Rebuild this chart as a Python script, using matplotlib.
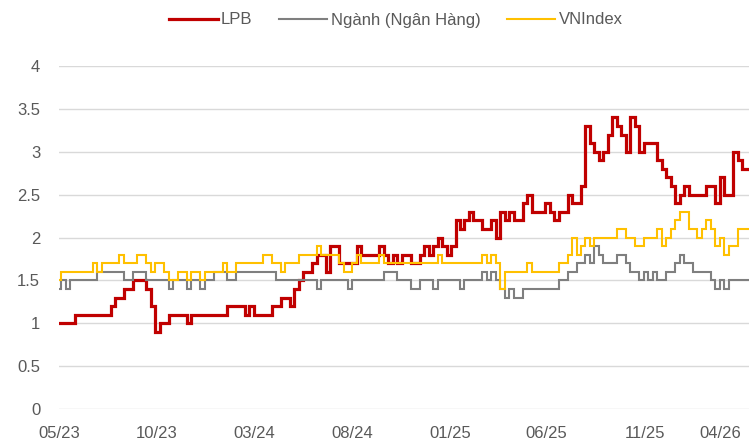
#!/usr/bin/env python3
# -*- coding: utf-8 -*-

import matplotlib
matplotlib.use("Agg")
import matplotlib.pyplot as plt
import pandas as pd

# ----------------------------------------------------------------------
# P/B theo tuần, bắt đầu 01/05/2023
START_DATE = "2023-05-01"

LPB = [
    1.0, 1.0, 1.0, 1.0, 1.1, 1.1, 1.1, 1.1, 1.1, 1.1,
    1.1, 1.1, 1.2, 1.3, 1.3, 1.4, 1.4, 1.5, 1.5, 1.5,
    1.4, 1.2, 0.9, 1.0, 1.0, 1.1, 1.1, 1.1, 1.1, 1.0,
    1.1, 1.1, 1.1, 1.1, 1.1, 1.1, 1.1, 1.1, 1.2, 1.2,
    1.2, 1.2, 1.1, 1.2, 1.1, 1.1, 1.1, 1.1, 1.2, 1.2,
    1.3, 1.3, 1.2, 1.4, 1.5, 1.6, 1.6, 1.7, 1.8, 1.8,
    1.6, 1.9, 1.9, 1.7, 1.7, 1.7, 1.7, 1.9, 1.8, 1.8,
    1.8, 1.8, 1.9, 1.8, 1.7, 1.8, 1.7, 1.8, 1.8, 1.7,
    1.7, 1.8, 1.9, 1.8, 1.9, 2.0, 1.9, 1.8, 1.9, 2.2,
    2.1, 2.2, 2.3, 2.2, 2.2, 2.1, 2.1, 2.2, 2.0, 2.3,
    2.2, 2.3, 2.2, 2.2, 2.4, 2.5, 2.3, 2.3, 2.3, 2.4,
    2.3, 2.2, 2.3, 2.3, 2.5, 2.4, 2.4, 2.6, 3.3, 3.1,
    3.0, 2.9, 3.0, 3.2, 3.4, 3.3, 3.2, 3.0, 3.4, 3.3,
    3.0, 3.1, 3.1, 3.1, 2.9, 2.8, 2.7, 2.6, 2.4, 2.5,
    2.6, 2.5, 2.5, 2.5, 2.5, 2.6, 2.6, 2.4, 2.7, 2.5,
    2.5, 3.0, 2.9, 2.8, 2.8,
]

NGANH = [
    1.4, 1.5, 1.4, 1.5, 1.5, 1.5, 1.5, 1.5, 1.5, 1.6,
    1.6, 1.6, 1.6, 1.6, 1.6, 1.5, 1.5, 1.6, 1.6, 1.6,
    1.5, 1.5, 1.5, 1.5, 1.5, 1.4, 1.5, 1.5, 1.5, 1.4,
    1.5, 1.5, 1.4, 1.5, 1.5, 1.6, 1.6, 1.6, 1.5, 1.5,
    1.6, 1.6, 1.6, 1.6, 1.6, 1.6, 1.6, 1.6, 1.6, 1.5,
    1.5, 1.5, 1.5, 1.5, 1.5, 1.5, 1.5, 1.5, 1.4, 1.5,
    1.5, 1.5, 1.5, 1.5, 1.5, 1.4, 1.5, 1.5, 1.5, 1.5,
    1.5, 1.5, 1.5, 1.6, 1.6, 1.6, 1.5, 1.5, 1.5, 1.4,
    1.4, 1.5, 1.5, 1.5, 1.4, 1.5, 1.5, 1.5, 1.5, 1.5,
    1.4, 1.5, 1.5, 1.5, 1.5, 1.6, 1.5, 1.6, 1.5, 1.4,
    1.3, 1.4, 1.3, 1.3, 1.4, 1.4, 1.4, 1.4, 1.4, 1.4,
    1.4, 1.4, 1.5, 1.5, 1.6, 1.6, 1.7, 1.7, 1.8, 1.7,
    1.9, 1.8, 1.7, 1.7, 1.7, 1.8, 1.8, 1.7, 1.6, 1.6,
    1.5, 1.6, 1.5, 1.6, 1.5, 1.5, 1.6, 1.6, 1.7, 1.8,
    1.7, 1.7, 1.6, 1.6, 1.6, 1.6, 1.5, 1.4, 1.5, 1.4,
    1.5, 1.5, 1.5, 1.5, 1.5,
]

VNINDEX = [
    1.5, 1.6, 1.6, 1.6, 1.6, 1.6, 1.6, 1.6, 1.7, 1.6,
    1.7, 1.7, 1.7, 1.7, 1.8, 1.7, 1.7, 1.7, 1.8, 1.8,
    1.7, 1.6, 1.7, 1.7, 1.6, 1.5, 1.5, 1.6, 1.6, 1.5,
    1.6, 1.6, 1.5, 1.6, 1.6, 1.6, 1.6, 1.7, 1.6, 1.6,
    1.7, 1.7, 1.7, 1.7, 1.7, 1.7, 1.8, 1.8, 1.7, 1.7,
    1.6, 1.7, 1.7, 1.7, 1.8, 1.8, 1.8, 1.8, 1.9, 1.8,
    1.8, 1.8, 1.8, 1.7, 1.6, 1.6, 1.7, 1.8, 1.7, 1.7,
    1.7, 1.7, 1.8, 1.7, 1.7, 1.7, 1.7, 1.7, 1.7, 1.7,
    1.7, 1.7, 1.7, 1.7, 1.7, 1.8, 1.7, 1.7, 1.7, 1.7,
    1.7, 1.7, 1.7, 1.7, 1.7, 1.8, 1.7, 1.8, 1.7, 1.4,
    1.6, 1.6, 1.6, 1.6, 1.6, 1.7, 1.6, 1.6, 1.6, 1.6,
    1.6, 1.6, 1.7, 1.7, 1.8, 2.0, 1.8, 1.9, 2.0, 1.9,
    2.0, 2.0, 2.0, 2.0, 2.0, 2.1, 2.1, 2.0, 2.0, 1.9,
    1.9, 2.0, 2.0, 2.0, 2.1, 1.9, 2.0, 2.1, 2.2, 2.3,
    2.3, 2.1, 2.1, 2.0, 2.1, 2.2, 2.1, 1.9, 2.0, 1.8,
    1.9, 1.9, 2.1, 2.1, 2.1,
]

SERIES_NAMES = ["LPB", "Ngành (Ngân Hàng)", "VNIndex"]
TICK_DATES = ["2023-05-01", "2023-10-01", "2024-03-01", "2024-08-01",
              "2025-01-01", "2025-06-01", "2025-11-01", "2026-04-01"]
Y_TICKS = [0, 0.5, 1, 1.5, 2, 2.5, 3, 3.5, 4]

TEXT_COLOR = "#595959"
GRID_COLOR = "#D9D9D9"


# ----------------------------------------------------------------------
def plot_pb(out_path: str = "out.png") -> None:
    plt.rcParams["font.family"] = ["Liberation Sans", "DejaVu Sans"]

    dates = pd.date_range(START_DATE, periods=len(LPB), freq="7D")

    W, H = 755, 445
    fig = plt.figure(figsize=(W / 100, H / 100), dpi=100)
    # vùng vẽ: x 59..749 px, y 66..409 px
    ax = fig.add_axes([59 / W, (H - 409) / H, 690 / W, 343 / H])

    # thứ tự giống Excel: LPB, Ngành, VNIndex (dữ liệu dạng bậc thang)
    style = dict(drawstyle="steps-mid", solid_joinstyle="miter")
    ax.plot(dates, LPB, color="#C00000", lw=2.3, label=SERIES_NAMES[0], **style)
    ax.plot(dates, NGANH, color="#7F7F7F", lw=1.5, label=SERIES_NAMES[1], **style)
    ax.plot(dates, VNINDEX, color="#FFC000", lw=1.5, label=SERIES_NAMES[2], **style)

    ax.set_ylim(0, 4)
    ax.set_yticks(Y_TICKS)
    ax.set_yticklabels([f"{v:g}" for v in Y_TICKS])
    ax.set_xlim(dates[0], dates[-1])
    ticks = pd.to_datetime(TICK_DATES)
    ax.set_xticks(ticks)
    ax.set_xticklabels([d.strftime("%m/%y") for d in ticks])
    # nhãn cuối bị đẩy vào trong khung hình
    ax.get_xticklabels()[-1].set_horizontalalignment("right")

    ax.grid(axis="y", color=GRID_COLOR, lw=1.0)
    ax.grid(axis="x", visible=False)
    ax.set_axisbelow(True)
    for sp in ax.spines.values():
        sp.set_visible(False)
    ax.tick_params(axis="both", length=0, labelsize=12, colors=TEXT_COLOR)
    ax.tick_params(axis="y", pad=13.5)
    ax.tick_params(axis="x", pad=12.5)

    leg = fig.legend(loc="center", bbox_to_anchor=(396 / W, 1 - 20 / H),
                     ncol=3, frameon=False, fontsize=12,
                     handlelength=2.9, handletextpad=0.2, columnspacing=1.6)
    for t in leg.get_texts():
        t.set_color(TEXT_COLOR)

    fig.savefig(out_path, dpi=100)
    plt.close(fig)


# ----------------------------------------------------------------------
if __name__ == "__main__":
    plot_pb()
